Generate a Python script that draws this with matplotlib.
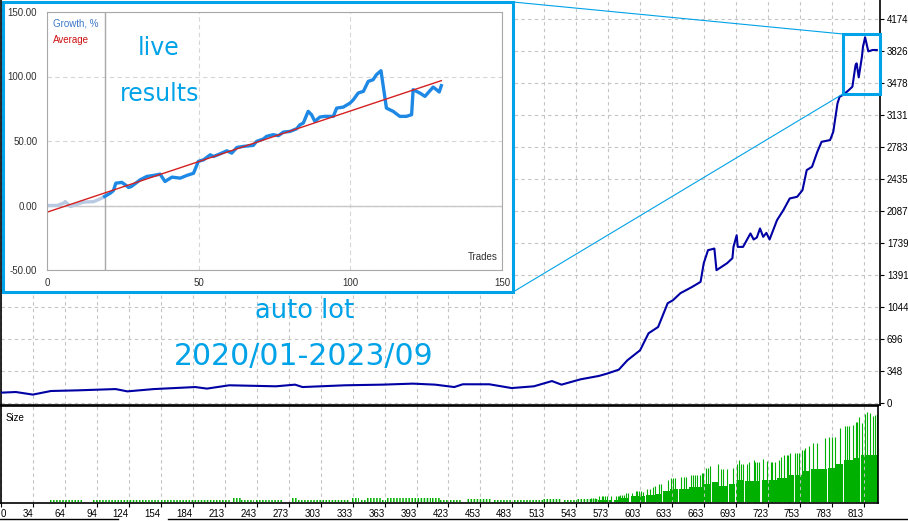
import numpy as np
import matplotlib.pyplot as plt
from matplotlib.patches import Rectangle, ConnectionPatch
from matplotlib.lines import Line2D

plt.rcParams['font.family'] = ['Liberation Sans', 'DejaVu Sans']

# backtest balance by trade number
trades = [0, 14, 30, 47, 72, 108, 119, 144, 183, 194, 215, 259, 277, 284, 324, 359,
          388, 409, 427, 435, 460, 481, 502, 519, 528, 546, 563, 571, 582, 590, 602,
          610, 619, 628, 633, 640, 651, 659, 662, 666, 672, 674, 684, 689, 690, 693,
          694, 699, 706, 709, 712, 715, 718, 721, 724, 731, 737, 743, 750, 755, 759,
          764, 769, 773, 781, 784, 788, 790, 793, 798, 802, 805, 806, 808, 811, 812,
          814, 817, 821, 825]
balance = [116, 123, 95, 134, 141, 155, 130, 155, 177, 160, 196, 185, 203, 177, 196, 203,
           214, 203, 177, 207, 207, 166, 185, 242, 203, 261, 297, 323, 366, 467, 576,
           761, 829, 1087, 1120, 1196, 1264, 1319, 1522, 1663, 1681, 1446, 1522, 1576, 1699, 1826,
           1699, 1699, 1845, 1779, 1801, 1899, 1808, 1851, 1779, 1989, 2098, 2225, 2243, 2315, 2533,
           2569, 2732, 2840, 2859, 2949, 3258, 3330, 3348, 3395, 3438, 3674, 3692, 3540, 3764, 3873,
           3975, 3822, 3837, 3837]

# lot sizes: early small lots (segments), base lot steps, single larger trades
small_start = [46, 87, 130, 151, 219, 226, 240, 274, 280, 331, 339, 345, 359, 364, 406,
               414, 423, 439, 464, 483, 511, 530, 543]
small_end = [76, 129, 149, 216, 226, 238, 266, 279, 329, 337, 344, 358, 363, 405, 414,
             422, 433, 461, 480, 511, 527, 543, 562]
small_lots = [0.02, 0.02, 0.02, 0.02, 0.04, 0.02, 0.02, 0.04, 0.02, 0.04, 0.02, 0.04, 0.02, 0.04, 0.04,
              0.02, 0.02, 0.03, 0.02, 0.02, 0.03, 0.02, 0.03]
base_start = [562, 577, 582, 593, 608, 617, 624, 630, 639, 648, 655, 662, 670, 675, 686,
              692, 701, 717, 731, 740, 748, 755, 763, 779, 787, 794, 803, 810, 815]
base_end = [576, 582, 592, 607, 616, 623, 630, 638, 648, 655, 662, 669, 675, 684, 691,
            700, 715, 731, 740, 747, 755, 762, 778, 787, 793, 803, 809, 815, 825]
base_lots = [0.017, 0.017, 0.04, 0.057, 0.067, 0.08, 0.11, 0.127, 0.127, 0.147, 0.147, 0.177, 0.20, 0.157, 0.177,
             0.217, 0.207, 0.217, 0.24, 0.267, 0.267, 0.307, 0.327, 0.337, 0.38, 0.417, 0.44, 0.467, 0.467]
spike_trade = [556, 558, 560, 563, 566, 567, 569, 571, 575, 579, 581, 582, 583, 585, 587,
               589, 591, 594, 598, 599, 601, 603, 605, 609, 611, 614, 616, 620, 622, 628,
               631, 633, 635, 641, 643, 645, 650, 652, 654, 656, 658, 660, 661, 664, 666,
               668, 675, 678, 680, 684, 690, 693, 695, 697, 699, 703, 705, 709, 710, 712,
               714, 718, 722, 725, 726, 729, 733, 735, 738, 740, 741, 743, 748, 750, 752,
               755, 756, 757, 761, 765, 769, 776, 780, 783, 786, 790, 795, 797, 799, 803,
               805, 806, 808, 811, 814, 816, 819, 821, 823, 825]
spike_lots = [0.033, 0.033, 0.033, 0.057, 0.057, 0.057, 0.057, 0.057, 0.057, 0.057, 0.057, 0.057, 0.067, 0.067, 0.067,
              0.083, 0.083, 0.083, 0.11, 0.11, 0.11, 0.11, 0.10, 0.13, 0.13, 0.143, 0.157, 0.177, 0.177, 0.217,
              0.24, 0.24, 0.24, 0.25, 0.25, 0.25, 0.267, 0.267, 0.267, 0.267, 0.267, 0.29, 0.29, 0.333, 0.333,
              0.357, 0.377, 0.327, 0.327, 0.327, 0.333, 0.377, 0.417, 0.377, 0.377, 0.377, 0.393, 0.417, 0.40, 0.40,
              0.40, 0.423, 0.407, 0.40, 0.40, 0.40, 0.417, 0.45, 0.467, 0.467, 0.467, 0.49, 0.49, 0.49, 0.49,
              0.517, 0.517, 0.533, 0.557, 0.583, 0.59, 0.633, 0.643, 0.65, 0.65, 0.733, 0.757, 0.757, 0.757, 0.767,
              0.80, 0.80, 0.85, 0.79, 0.877, 0.893, 0.883, 0.857, 0.867, 0.877]

y_ticks = [0, 348, 696, 1044, 1391, 1739, 2087, 2435, 2783, 3131, 3478, 3826, 4174]
x_labels = ['0', '34', '64', '94', '124', '154', '184', '213', '243', '273', '303', '333', '363', '393',
            '423', '453', '483', '513', '543', '573', '603', '633', '663', '693', '723', '753', '783', '813']
x_step = 30.11

# live results (inset)
live_trades = [0, 3.3, 5.5, 6, 7.7, 9.3, 12, 15.4, 17.6, 19, 20.9, 21.9, 22.7, 24.7, 25.8,
               26.9, 27.8, 29.6, 30.7, 32.9, 35.1, 37.3, 38.9, 41.2, 43.9, 46.1, 48.3, 49.9, 51.6, 53.8,
               54.9, 57.1, 59.3, 60.9, 62.6, 64.7, 68, 69.1, 71.3, 72.4, 74.6, 76.3, 77.9, 80.1, 82.3,
               83.4, 84.5, 86.1, 87.2, 88.3, 90, 91.6, 94.4, 95.5, 97.7, 99.9, 101, 102.6, 104.3, 105.9,
               107.5, 108.6, 110.1, 111.9, 114.1, 116.3, 118.5, 120.2, 120.7, 122.9, 124.6, 127.3, 128.4, 129.3, 130]
live_growth = [0, 0, 1.8, 3, -0.8, 0.5, 2.6, 3, 5.2, 7, 9.6, 11.6, 17.3, 17.9, 16,
               14, 14.7, 17.9, 19.9, 22.5, 23.3, 24.3, 18.6, 22, 21.2, 23.3, 25, 34.2, 35.4, 39.3,
               38, 40.1, 42.4, 40.6, 45, 45.8, 46.6, 49.7, 51.5, 53.6, 54.9, 54.1, 56.9, 57.4, 59.5,
               62.6, 63.9, 73, 70.4, 65.2, 68.6, 69.1, 69.1, 75.5, 76.3, 79.4, 82, 87.2, 88.5, 96.2,
               97.5, 101.4, 104.5, 75.5, 73, 69.1, 69.1, 70.4, 89.8, 87.2, 84.6, 91.8, 89.8, 88, 92.9]
live_start = 19
avg_trades = [0, 130]
avg_growth = [-5.2, 96.8]

zoom_trades = (793, 828)
zoom_balance = (3359, 4011)

W, H = 908, 521
px_trade = x_step / 32


def fbox(x0, y0, x1, y1):
    return [x0 / W, 1 - y1 / H, (x1 - x0) / W, (y1 - y0) / H]


fig = plt.figure(figsize=(W / 100, H / 100), dpi=100)
blue = '#00a2e8'
grid_kw = dict(color='#c4c4c4', linestyle=(0, (3, 3)), linewidth=0.8)

# main balance chart
ax = fig.add_axes(fbox(1, 0, 880, 405))
ax.plot(trades, balance, color='#0000a4', lw=1.5, zorder=3)
ax.set_xlim(1 * px_trade, 880 * px_trade)
ax.set_ylim(-18, 4380)
ax.set_xticks([k * x_step for k in range(len(x_labels))])
ax.tick_params(axis='x', length=0, labelbottom=False)
ax.yaxis.tick_right()
ax.set_yticks(y_ticks)
ax.set_yticklabels([str(v) for v in y_ticks])
ax.tick_params(axis='y', length=3, pad=2, labelsize=7, colors='black')
ax.grid(True, **grid_kw)
ax.spines['top'].set_visible(False)
for s in ['left', 'right', 'bottom']:
    ax.spines[s].set_linewidth(1.2)
ax.add_patch(Rectangle((zoom_trades[0], zoom_balance[0]), zoom_trades[1] - zoom_trades[0],
                       zoom_balance[1] - zoom_balance[0], fill=False, edgecolor=blue,
                       lw=2.2, clip_on=False, zorder=5))

# lot size pane
sax = fig.add_axes(fbox(1, 406, 878, 502.7))
sax.set_xlim(1 * px_trade, 878 * px_trade)
sax.set_ylim(-0.01, 0.957)
green = '#00b000'
for s, e, h in zip(small_start, small_end, small_lots):
    lw = h * 100 * 0.72
    sax.plot([s, e], [h / 2, h / 2], color=green, lw=lw, solid_capstyle='butt',
             linestyle=(0, (1.1 / lw, 1.1 / lw)))
sax.bar(base_start, base_lots, width=np.array(base_end) - np.array(base_start),
        align='edge', color=green, lw=0)
sax.vlines(spike_trade, 0, spike_lots, color=green, lw=0.8)
sax.set_yticks([])
sax.set_xticks([k * x_step for k in range(len(x_labels))])
sax.set_xticklabels(x_labels)
sax.tick_params(axis='x', length=3, pad=1.5, labelsize=7)
for i, lab in enumerate(sax.get_xticklabels()):
    lab.set_horizontalalignment('left' if i == 0 else 'right')
sax.grid(True, axis='x', **grid_kw)
for s in sax.spines.values():
    s.set_linewidth(1.2)
sax.text(0.005, 0.93, 'Size', transform=sax.transAxes, va='top', fontsize=7)

# inset frame
fig.add_artist(Rectangle((3 / W, 1 - 292 / H), 510 / W, 290 / H, transform=fig.transFigure,
                         facecolor='white', edgecolor=blue, lw=2.2, zorder=2))
for xa, corner in [(1 - 2 / H, (zoom_trades[0], zoom_balance[1])),
                   (1 - 292 / H, (zoom_trades[0], zoom_balance[0]))]:
    fig.add_artist(ConnectionPatch(xyA=(513 / W, xa), coordsA=fig.transFigure,
                                   xyB=corner, coordsB=ax.transData,
                                   color=blue, lw=0.8, zorder=2))

iax = fig.add_axes(fbox(47, 12, 502, 270), zorder=3)
iax.set_xlim(0, 150)
iax.set_ylim(-50, 150)
iax.set_xticks([0, 50, 100, 150])
iax.set_yticks([-50, 0, 50, 100, 150])
iax.set_yticklabels(['%.2f' % v for v in [-50, 0, 50, 100, 150]])
iax.tick_params(length=0, labelsize=7, colors='#303030')
iax.tick_params(axis='y', pad=7)
iax.tick_params(axis='x', pad=6)
iax.grid(True, color='#d6d6d6', linestyle=(0, (4, 3)), linewidth=0.8)
iax.axhline(0, color='#c8c8c8', lw=1)
iax.axvline(live_start, color='#a8a8a8', lw=1)
for s in iax.spines.values():
    s.set_color('#a8a8a8')
lt = np.array(live_trades)
lg = np.array(live_growth)
pre = lt <= live_start
iax.plot(lt[pre], lg[pre], color='#b9c9e2', lw=2.4, solid_joinstyle='round')
iax.plot(lt[~pre | (lt == live_start)], lg[~pre | (lt == live_start)], color='#1e88e5',
         lw=2.4, solid_joinstyle='round')
iax.plot(avg_trades, avg_growth, color='#d42020', lw=1)
iax.text(0.013, 0.955, 'Growth, %', transform=iax.transAxes, color='#3a78c8', fontsize=7, va='center')
iax.text(0.013, 0.893, 'Average', transform=iax.transAxes, color='#cc1111', fontsize=7, va='center')
iax.text(0.99, 0.03, 'Trades', transform=iax.transAxes, color='#303030', fontsize=7,
         ha='right', va='bottom')

# handwritten notes
fig.text(159 / W, 1 - 48 / H, 'live', color=blue, fontsize=17, ha='center', va='center',
         family='DejaVu Sans', zorder=10)
fig.text(160 / W, 1 - 94 / H, 'results', color=blue, fontsize=17, ha='center', va='center',
         family='DejaVu Sans', zorder=10)
fig.text(305 / W, 1 - 311 / H, 'auto lot', color=blue, fontsize=18.5, ha='center', va='center',
         family='DejaVu Sans', zorder=10)
fig.text(304 / W, 1 - 357 / H, '2020/01-2023/09', color=blue, fontsize=21.5, ha='center',
         va='center', family='DejaVu Sans', zorder=10)

# window scrollbar edge
fig.add_artist(Line2D([0, 118 / W], [1 - 519 / H] * 2, color='black', lw=1))
fig.add_artist(Line2D([168 / W, 1], [1 - 519 / H] * 2, color='black', lw=1))

fig.savefig('out.png', dpi=100)
